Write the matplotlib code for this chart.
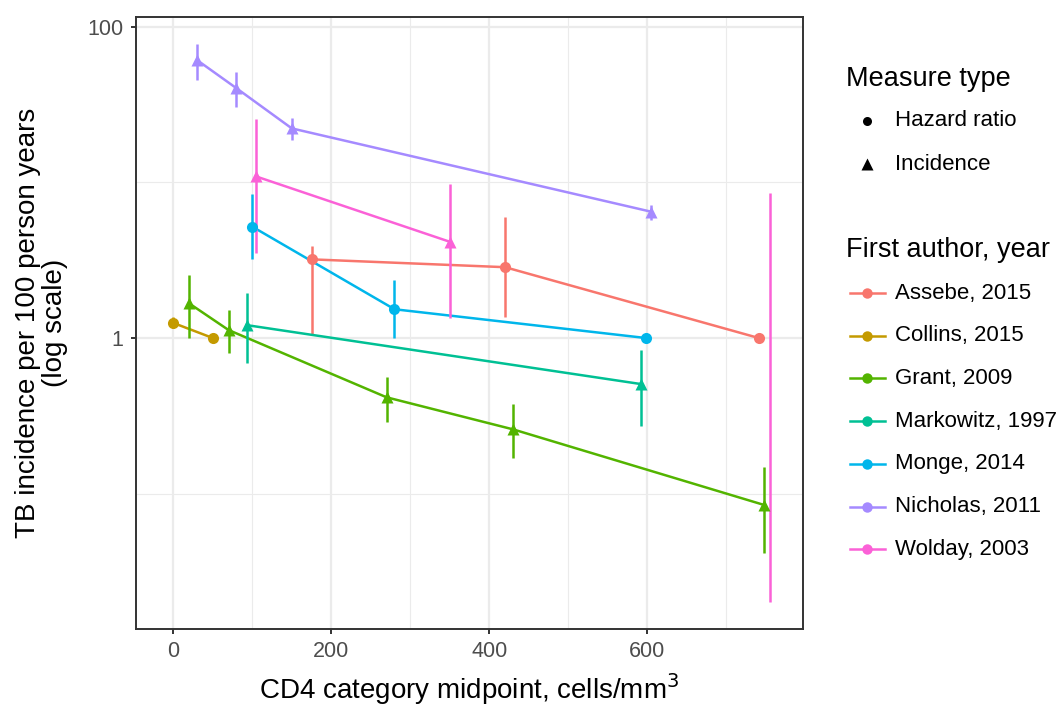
import numpy as np
import matplotlib.pyplot as plt
from matplotlib.lines import Line2D
from matplotlib.ticker import FixedLocator, NullFormatter

plt.rcParams['font.family'] = ['Liberation Sans', 'DejaVu Sans']

nan = np.nan

# study data: x = CD4 midpoint, y = estimate, lo/hi = interval
authors = ["Assebe, 2015", "Collins, 2015", "Grant, 2009", "Markowitz, 1997",
           "Monge, 2014", "Nicholas, 2011", "Wolday, 2003"]
colors = ["#F8766D", "#C49A00", "#53B400", "#00C094", "#00B6EB", "#A58AFF", "#FB61D7"]
measure = ["Hazard ratio", "Hazard ratio", "Incidence", "Incidence",
           "Hazard ratio", "Incidence", "Incidence"]

assebe_x = [175, 420, 741]
assebe_y = [3.2, 2.85, 1.0]
assebe_lo = [1.05, 1.37, nan]
assebe_hi = [3.92, 6.0, nan]

collins_x = [0, 50]
collins_y = [1.25, 1.0]
collins_lo = [1.16, nan]
collins_hi = [1.36, nan]

grant_x = [20, 70, 270, 430, 748]
grant_y = [1.67, 1.125, 0.416, 0.259, 0.0846]
grant_lo = [1.0, 0.80, 0.29, 0.169, 0.0418]
grant_hi = [2.54, 1.51, 0.564, 0.375, 0.149]

markowitz_x = [93, 592]
markowitz_y = [1.21, 0.506]
markowitz_lo = [0.694, 0.272]
markowitz_hi = [1.94, 0.837]

monge_x = [100, 280, 598]
monge_y = [5.19, 1.53, 1.0]
monge_lo = [3.22, 1.0, nan]
monge_hi = [8.37, 2.36, nan]

nicholas_x = [30, 80, 150, 605]
nicholas_y = [61, 40.2, 22.2, 6.47]
nicholas_lo = [45.4, 30.6, 18.7, 5.73]
nicholas_hi = [77.3, 50.9, 25.8, 7.15]

wolday_x = [105, 350, 755]
wolday_y = [10.9, 4.15, nan]
wolday_lo = [3.5, 1.35, 0.0202]
wolday_hi = [25.4, 9.7, 8.58]

studies = [
    (assebe_x, assebe_y, assebe_lo, assebe_hi),
    (collins_x, collins_y, collins_lo, collins_hi),
    (grant_x, grant_y, grant_lo, grant_hi),
    (markowitz_x, markowitz_y, markowitz_lo, markowitz_hi),
    (monge_x, monge_y, monge_lo, monge_hi),
    (nicholas_x, nicholas_y, nicholas_lo, nicholas_hi),
    (wolday_x, wolday_y, wolday_lo, wolday_hi),
]
shapes = {"Hazard ratio": "o", "Incidence": "^"}

W, H = 1058, 706
fig = plt.figure(figsize=(W / 100, H / 100), dpi=100)
ax = fig.add_axes([135.5 / W, 1 - 629 / H, (802.5 - 135.5) / W, (629 - 16.7) / H])

lw = 1.8
for (x, y, lo, hi), col, m in zip(studies, colors, measure):
    x = np.array(x, float)
    y = np.array(y, float)
    lo = np.array(lo, float)
    hi = np.array(hi, float)
    ok = ~np.isnan(y)
    ax.plot(x[ok], y[ok], color=col, lw=lw, zorder=3)
    ax.vlines(x[~np.isnan(lo)], lo[~np.isnan(lo)], hi[~np.isnan(lo)], color=col, lw=lw, zorder=3)
    ms = 8 if m == "Hazard ratio" else 9
    ax.plot(x[ok], y[ok], ls='none', marker=shapes[m], ms=ms, color=col, mec='none', zorder=4)

ax.set_yscale('log')
ax.set_xlim(-47.8, 796.4)
ax.set_ylim(0.01352, 115.8)

ax.set_xticks([0, 200, 400, 600])
ax.xaxis.set_minor_locator(FixedLocator([100, 300, 500, 700]))
ax.set_yticks([1, 100])
ax.set_yticklabels(["1", "100"])
ax.yaxis.set_minor_locator(FixedLocator([0.1, 10]))
ax.yaxis.set_minor_formatter(NullFormatter())

ax.grid(which='major', color='#EBEBEB', lw=1.6, zorder=0)
ax.grid(which='minor', color='#EBEBEB', lw=0.8, zorder=0)
ax.set_axisbelow(True)
for s in ax.spines.values():
    s.set_color('#333333')
    s.set_linewidth(1.4)
ax.tick_params(which='major', length=3.6, width=1.4, color='#333333',
               labelcolor='#4D4D4D', labelsize=15.5, pad=5)
ax.tick_params(which='minor', length=0)

# axis titles
def fx(px):
    return px / W

def fy(py):
    return 1 - py / H

fig.text(fx(469), fy(699), "CD4 category midpoint, cells/mm$^3$", fontsize=20,
         ha='center', va='baseline')
fig.text(fx(42), fy(323), "TB incidence per 100 person years\n(log scale)", fontsize=20,
         ha='center', va='center', rotation=90, linespacing=1.05)

# legends drawn by hand in pixel positions
fig.text(fx(846.5), fy(79), "Measure type", fontsize=19.5, va='center', ha='left')
for lab, py in zip(["Hazard ratio", "Incidence"], [121, 164]):
    fig.add_artist(Line2D([fx(867)], [fy(py)], marker=shapes[lab], color='black',
                          ms=6.5 if lab == "Hazard ratio" else 8.5, mec='none', ls='none'))
    fig.text(fx(895), fy(py), lab, fontsize=16, va='center', ha='left')

fig.text(fx(846.5), fy(250), "First author, year", fontsize=19.5, va='center', ha='left')
for i, (lab, col) in enumerate(zip(authors, colors)):
    py = 293 + i * 42.7
    fig.add_artist(Line2D([fx(850), fx(885)], [fy(py), fy(py)], color=col, lw=lw))
    fig.add_artist(Line2D([fx(867)], [fy(py)], marker='o', color=col, ms=7.5, mec='none'))
    fig.text(fx(895), fy(py), lab, fontsize=16, va='center', ha='left')

fig.savefig("out.png", dpi=100)
